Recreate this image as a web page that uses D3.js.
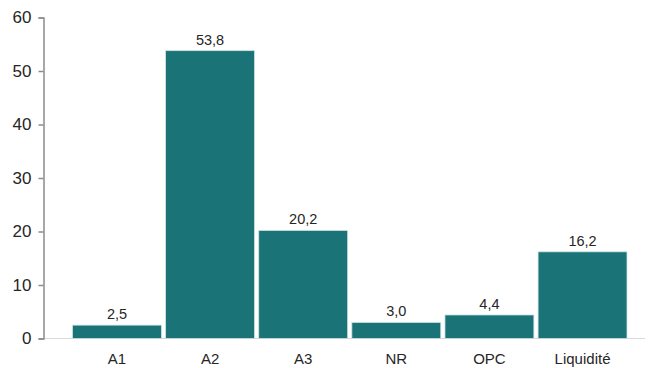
<!DOCTYPE html>
<html>
<head>
<meta charset="utf-8">
<script src="https://cdn.jsdelivr.net/npm/d3@7"></script>
<style>
  body { margin: 0; background: #fff; }
  svg { display: block; font-family: "Liberation Sans", Arial, sans-serif; }
</style>
</head>
<body>
<svg id="chart" width="653" height="368"></svg>
<script>
const categories = ["A1", "A2", "A3", "NR", "OPC", "Liquidité"];
const values = [2.5, 53.8, 20.2, 3.0, 4.4, 16.2];
const yTicks = [0, 10, 20, 30, 40, 50, 60];

const svg = d3.select("#chart");
const fmt = v => v.toFixed(1).replace(".", ",");

const x = d3.scaleBand().domain(categories).range([72.5, 627]).paddingInner(0.045).paddingOuter(0);
const y = d3.scaleLinear().domain([0, 60]).range([338.5, 17.5]);

// baseline
svg.append("line")
  .attr("x1", 43).attr("x2", 645)
  .attr("y1", y(0)).attr("y2", y(0))
  .attr("stroke", "#d9d9d9").attr("stroke-width", 1);

// y axis
const yAxis = svg.append("g")
  .attr("transform", "translate(43.5,0)")
  .call(d3.axisLeft(y).tickValues(yTicks).tickSize(5).tickPadding(7).tickFormat(d3.format("d")));
yAxis.select(".domain").attr("stroke", "#8c8c8c").attr("stroke-width", 1.5);
yAxis.selectAll(".tick line").attr("stroke", "#8c8c8c").attr("stroke-width", 1.5);
yAxis.selectAll(".tick text").attr("fill", "#262626").style("font-size", "17px");

// bars
svg.append("g").selectAll("rect")
  .data(values)
  .join("rect")
  .attr("x", (d, i) => x(categories[i]))
  .attr("width", x.bandwidth())
  .attr("y", d => y(d))
  .attr("height", d => y(0) - y(d))
  .attr("fill", "#1a7377")
  .attr("stroke", "#cfe3e3")
  .attr("stroke-width", 0.8);

// value labels
svg.append("g").selectAll("text")
  .data(values)
  .join("text")
  .attr("x", (d, i) => x(categories[i]) + x.bandwidth() / 2)
  .attr("y", d => y(d) - 6)
  .attr("text-anchor", "middle")
  .attr("fill", "#262626")
  .style("font-size", "14.5px")
  .text(fmt);

// x axis labels
const xAxis = svg.append("g")
  .attr("transform", `translate(0,${y(0)})`)
  .call(d3.axisBottom(x).tickSize(0).tickPadding(15));
xAxis.select(".domain").remove();
xAxis.selectAll(".tick text").attr("fill", "#262626").style("font-size", "15px");
</script>
</body>
</html>
